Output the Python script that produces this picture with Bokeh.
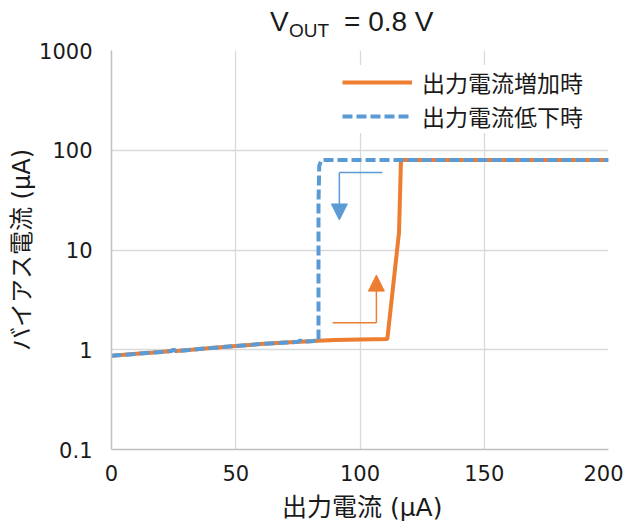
from bokeh.plotting import figure
from bokeh.layouts import column
from bokeh.models import (FixedTicker, CustomJSTickFormatter, Legend, LegendItem,
                          Div, Arrow, NormalHead)
from bokeh.embed import file_html
from bokeh.resources import INLINE

# ---- data ----
x_inc = [0, 10, 20, 24, 25, 26, 30, 40, 50, 60, 70, 80, 83, 90, 100, 111, 115.7, 116.5, 200]
y_inc = [0.87, 0.91, 0.95, 0.97, 1.0, 0.97, 0.99, 1.04, 1.09, 1.14, 1.18, 1.22, 1.23, 1.25, 1.27, 1.28, 15, 80, 80]

x_dec = [0, 10, 20, 24, 25, 26, 30, 40, 50, 60, 70, 75, 76, 77, 80, 83.3, 83.3, 83.6, 84.5, 200]
y_dec = [0.87, 0.91, 0.95, 0.97, 1.0, 0.97, 0.99, 1.04, 1.09, 1.14, 1.18, 1.20, 1.24, 1.2, 1.22, 1.24, 30, 70, 80, 80]

x_ticks = [0, 50, 100, 150, 200]
y_ticks = [0.1, 1, 10, 100, 1000]

series_names = ["出力電流増加時", "出力電流低下時"]
title_parts = ["V", "OUT", "= 0.8 V"]
x_label = "出力電流 (μA)"
y_label = "バイアス電流 (μA)"

# arrow annotations (data coordinates)
blue_arrow_x = [109, 91.7]
blue_arrow_y = [60, 60, 20]
orange_arrow_x = [89, 106.6]
orange_arrow_y = [1.86, 1.86, 5.6]

ORANGE = "#ED7D31"
BLUE = "#5B9BD5"
FONT = "DejaVu Sans, Noto Sans CJK JP"
JFONT = "Noto Sans CJK JP"
TXT = "#1a1a1a"

W = 623
TITLE_H = 38
XLAB_H = 24
FIG_H = 519 - TITLE_H - XLAB_H

p = figure(width=W, height=FIG_H, y_axis_type="log",
           x_range=(0, 200), y_range=(0.1, 1000),
           output_backend="svg", toolbar_location=None,
           min_border_left=111, min_border_right=15,
           min_border_top=50 - TITLE_H, min_border_bottom=FIG_H - (50 - TITLE_H) - 399)
p.outline_line_color = None
p.background_fill_color = "white"
p.border_fill_color = "white"

# grid
p.xgrid.ticker = FixedTicker(ticks=x_ticks)
p.ygrid.ticker = FixedTicker(ticks=y_ticks)
for g in (p.xgrid, p.ygrid):
    g.grid_line_color = "#d9d9d9"
    g.grid_line_width = 1.3

# axes
p.xaxis.ticker = FixedTicker(ticks=x_ticks)
p.yaxis.ticker = FixedTicker(ticks=y_ticks)
p.yaxis.formatter = CustomJSTickFormatter(code="return String(tick)")
for ax in (p.xaxis, p.yaxis):
    ax.axis_line_color = "#bfbfbf"
    ax.axis_line_width = 1.5
    ax.major_tick_line_color = None
    ax.minor_tick_line_color = None
    ax.major_tick_out = 0
    ax.major_tick_in = 0
    ax.major_label_text_font = FONT
    ax.major_label_text_font_size = "21px"
    ax.major_label_text_color = TXT
    ax.axis_label_text_font = FONT
    ax.axis_label_text_font_size = "24px"
    ax.axis_label_text_font_style = "normal"
    ax.axis_label_text_color = TXT
p.xaxis.major_label_standoff = 15
p.yaxis.major_label_standoff = 19
p.yaxis.axis_label = y_label
p.yaxis.axis_label_standoff = 0

# lines
r_inc = p.line(x_inc, y_inc, line_color=ORANGE, line_width=4)
r_dec = p.line(x_dec, y_dec, line_color=BLUE, line_width=4, line_dash="10 4")

# arrows
p.line(blue_arrow_x, blue_arrow_y[:2], line_color=BLUE, line_width=1.5)
p.add_layout(Arrow(x_start=blue_arrow_x[1], y_start=blue_arrow_y[1],
                   x_end=blue_arrow_x[1], y_end=blue_arrow_y[2],
                   line_color=BLUE, line_width=1.5,
                   end=NormalHead(size=16, fill_color=BLUE, line_color=BLUE)))
p.line(orange_arrow_x, orange_arrow_y[:2], line_color=ORANGE, line_width=1.5)
p.add_layout(Arrow(x_start=orange_arrow_x[1], y_start=orange_arrow_y[1],
                   x_end=orange_arrow_x[1], y_end=orange_arrow_y[2],
                   line_color=ORANGE, line_width=1.5,
                   end=NormalHead(size=16, fill_color=ORANGE, line_color=ORANGE)))

# legend
legend = Legend(items=[LegendItem(label=series_names[0], renderers=[r_inc]),
                       LegendItem(label=series_names[1], renderers=[r_dec])],
                location=(231, 316), orientation="vertical",
                glyph_width=70, glyph_height=26, label_height=26,
                label_standoff=10, spacing=-5, padding=5, margin=0,
                label_text_font=JFONT, label_text_font_size="23px",
                label_text_color=TXT,
                border_line_color=None, background_fill_color="white",
                background_fill_alpha=1.0)
p.add_layout(legend)

# title with subscript (HTML above the figure)
span = "position:absolute;white-space:nowrap;line-height:1;"
title_html = (
    f'<div style="position:relative;width:{W}px;height:{TITLE_H}px;'
    f'font-family:\'Liberation Sans\',\'Noto Sans CJK JP\',sans-serif;color:{TXT};">'
    f'<span style="{span}left:270px;top:8px;font-size:28px;">{title_parts[0]}</span>'
    f'<span style="{span}left:289px;top:21px;font-size:19px;">{title_parts[1]}</span>'
    f'<span style="{span}left:344px;top:8px;font-size:28px;">{title_parts[2]}</span>'
    '</div>'
)
title = Div(text=title_html, width=W, height=TITLE_H, margin=0)

# x-axis title (HTML below the figure)
xlab_html = (
    f'<div style="position:relative;width:{W}px;height:{XLAB_H}px;'
    f'font-family:\'DejaVu Sans\',\'Noto Sans CJK JP\',sans-serif;color:{TXT};">'
    f'<span style="{span}left:282px;top:0px;font-size:25px;">{x_label}</span>'
    '</div>'
)
xlab = Div(text=xlab_html, width=W, height=XLAB_H, margin=0)

layout = column(title, p, xlab, spacing=0)
open("out.html", "w").write(file_html(layout, INLINE))
